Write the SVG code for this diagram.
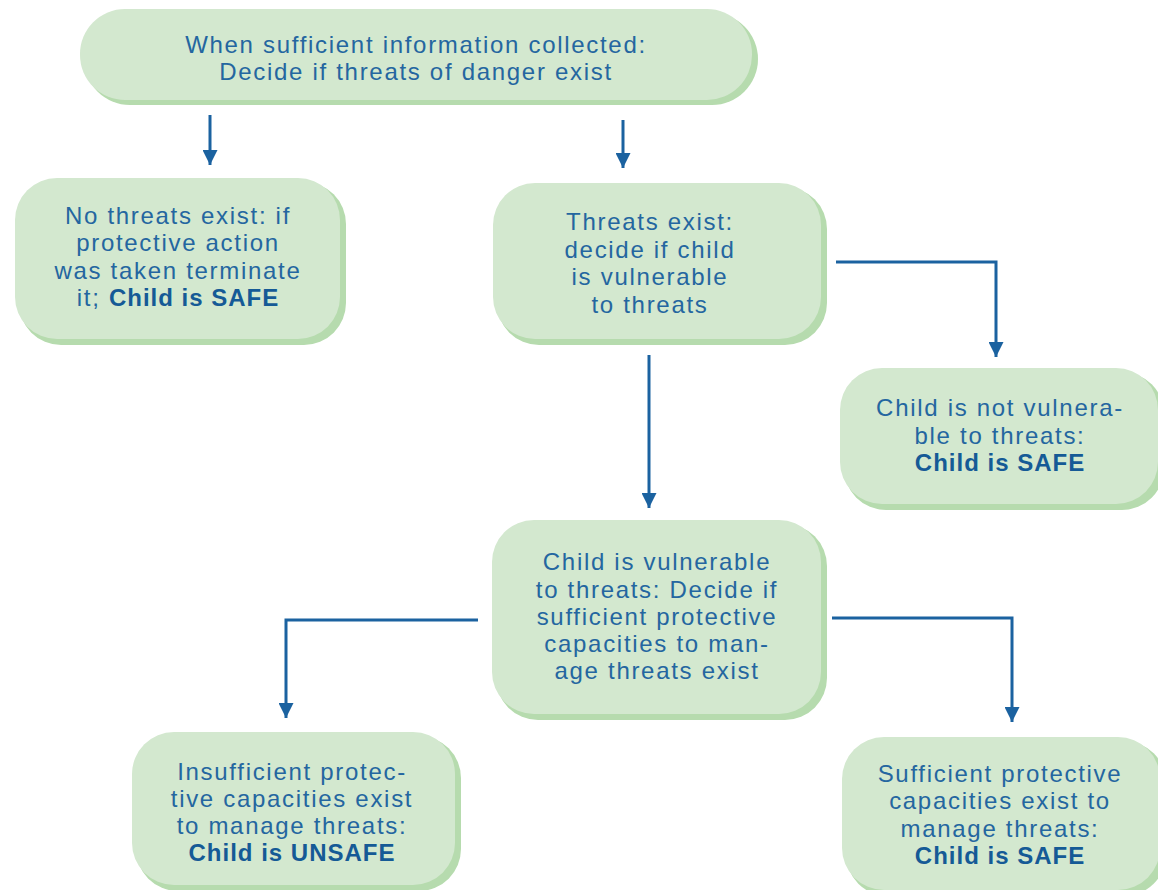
<svg xmlns="http://www.w3.org/2000/svg" width="1158" height="890" viewBox="0 0 1158 890">
<defs>
<marker id="ah" viewBox="0 0 10 10" refX="10" refY="5" markerWidth="5.5" markerHeight="5" markerUnits="strokeWidth" orient="auto">
<path d="M0,0 L10,5 L0,10 z" fill="#1b62a0"/>
</marker>
</defs>
<style>
.bg{fill:#ffffff}
.sh{fill:#b6dbae}
.bx{fill:#d3e8cf}
.t{font-family:"Liberation Sans",Arial,sans-serif;font-size:24px;letter-spacing:1.7px;fill:#2466a0;text-anchor:middle}
.b{font-weight:bold;fill:#155a96;letter-spacing:1px}
.c{fill:none;stroke:#1b62a0;stroke-width:3;marker-end:url(#ah)}
</style>
<rect class="bg" x="0" y="0" width="1158" height="890"/>
<g id="connectors">
<path class="c" d="M210,115 L210,165"/>
<path class="c" d="M623,120 L623,168"/>
<path class="c" d="M836,262 L996,262 L996,357"/>
<path class="c" d="M649,355 L649,508"/>
<path class="c" d="M478,620 L286,620 L286,718"/>
<path class="c" d="M832,618 L1012,618 L1012,722"/>
</g>
<g id="n1">
<rect class="sh" x="84" y="13" width="674" height="92" rx="46"/>
<rect class="bx" x="80" y="9" width="672" height="91" rx="45"/>
<text class="t" x="416" y="53">When sufficient information collected:</text>
<text class="t" x="416" y="80">Decide if threats of danger exist</text>
</g>
<g id="n2">
<rect class="sh" x="19" y="182" width="327" height="163" rx="42"/>
<rect class="bx" x="15" y="178" width="325" height="161" rx="42"/>
<text class="t" x="178" y="224">No threats exist: if</text>
<text class="t" x="178" y="251">protective action</text>
<text class="t" x="178" y="279">was taken terminate</text>
<text class="t" x="178" y="306">it; <tspan class="b">Child is SAFE</tspan></text>
</g>
<g id="n3">
<rect class="sh" x="497" y="187" width="330" height="158" rx="42"/>
<rect class="bx" x="493" y="183" width="328" height="156" rx="42"/>
<text class="t" x="650" y="230">Threats exist:</text>
<text class="t" x="650" y="258">decide if child</text>
<text class="t" x="650" y="285">is vulnerable</text>
<text class="t" x="650" y="313">to threats</text>
</g>
<g id="n4">
<rect class="sh" x="844" y="372" width="320" height="138" rx="42"/>
<rect class="bx" x="840" y="368" width="318" height="136" rx="42"/>
<text class="t" x="1000" y="416">Child is not vulnera-</text>
<text class="t" x="1000" y="444">ble to threats:</text>
<text class="t" x="1000" y="471"><tspan class="b">Child is SAFE</tspan></text>
</g>
<g id="n5">
<rect class="sh" x="496" y="524" width="331" height="196" rx="42"/>
<rect class="bx" x="492" y="520" width="329" height="194" rx="42"/>
<text class="t" x="657" y="570">Child is vulnerable</text>
<text class="t" x="657" y="598">to threats: Decide if</text>
<text class="t" x="657" y="625">sufficient protective</text>
<text class="t" x="657" y="652">capacities to man-</text>
<text class="t" x="657" y="679">age threats exist</text>
</g>
<g id="n6">
<rect class="sh" x="136" y="736" width="325" height="155" rx="42"/>
<rect class="bx" x="132" y="732" width="323" height="153" rx="42"/>
<text class="t" x="292" y="780">Insufficient protec-</text>
<text class="t" x="292" y="807">tive capacities exist</text>
<text class="t" x="292" y="834">to manage threats:</text>
<text class="t" x="292" y="861"><tspan class="b">Child is UNSAFE</tspan></text>
</g>
<g id="n7">
<rect class="sh" x="846" y="741" width="320" height="155" rx="42"/>
<rect class="bx" x="842" y="737" width="318" height="153" rx="42"/>
<text class="t" x="1000" y="782">Sufficient protective</text>
<text class="t" x="1000" y="809">capacities exist to</text>
<text class="t" x="1000" y="837">manage threats:</text>
<text class="t" x="1000" y="864"><tspan class="b">Child is SAFE</tspan></text>
</g>
</svg>
